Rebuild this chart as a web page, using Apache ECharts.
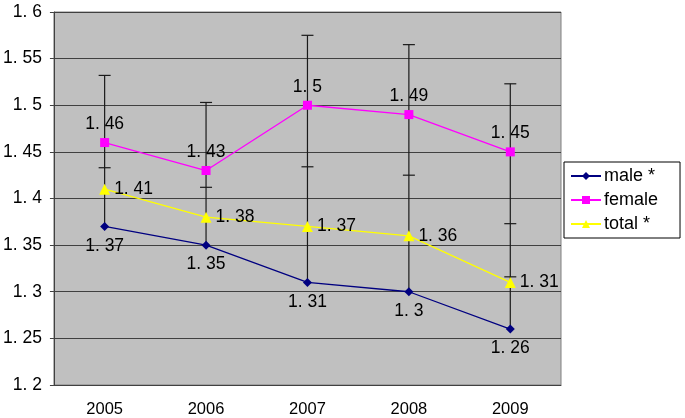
<!DOCTYPE html>
<html><head><meta charset="utf-8">
<script src="https://cdn.jsdelivr.net/npm/echarts@6/dist/echarts.min.js"></script>
<style>html,body{margin:0;padding:0;background:#fff}#c{width:685px;height:418px}</style>
</head><body><div id="c"></div>
<script>
const years = ['2005','2006','2007','2008','2009'];
const male = [1.37,1.35,1.31,1.30,1.26];
const female = [1.46,1.43,1.50,1.49,1.45];
const total = [1.41,1.38,1.37,1.36,1.31];
const femaleUpper = [1.532,1.503,1.575,1.565,1.523];
const maleUpper = [1.433,1.412,1.434,1.425,1.373];
const totalUpper = [null,null,null,null,1.316];

const fmtNum = v => String(v).replace('.', '. ');
const FONT = 'Liberation Sans';

const barData = years.map((y,i)=>[i, male[i], femaleUpper[i]]);
const capData = [];
years.forEach((y,i)=>{ if(maleUpper[i]!=null) capData.push([i,maleUpper[i]]); if(totalUpper[i]!=null) capData.push([i,totalUpper[i]]); });

const chart = echarts.init(document.getElementById('c'));
chart.setOption({
  animation:false,
  textStyle:{fontFamily:FONT},
  grid:{left:52,right:124,top:12,bottom:33,show:true,backgroundColor:'#c0c0c0',borderColor:'#808080',borderWidth:1},
  legend:{
    orient:'vertical',left:564,top:162,
    backgroundColor:'#fff',borderColor:'#000',borderWidth:1,borderRadius:0,
    padding:[5,22,5,6],itemGap:6,itemWidth:30,itemHeight:10,
    textStyle:{fontSize:18,color:'#000',fontFamily:FONT,padding:[0,0,0,-2]},
    data:['male *','female','total *']
  },
  xAxis:{type:'category',data:years,boundaryGap:true,
    axisLine:{lineStyle:{color:'#404040',width:1}},
    axisTick:{inside:true,length:5,lineStyle:{color:'#404040'}},
    axisLabel:{fontSize:16.5,color:'#000',margin:16,fontFamily:FONT}},
  yAxis:{type:'value',min:1.2,max:1.6,interval:0.05,
    axisLine:{show:true,lineStyle:{color:'#404040'}},
    axisTick:{show:true,length:4,lineStyle:{color:'#404040'}},
    splitLine:{lineStyle:{color:'#404040',width:1}},
    axisLabel:{fontSize:17.5,color:'#000',margin:12,fontFamily:FONT,formatter:v=>fmtNum(+v.toFixed(2))}},
  series:[
    {type:'custom',name:'err',silent:true,z:1,data:barData,
     renderItem:(params,api)=>{
       const p0=api.coord([api.value(0),api.value(1)]);
       const p1=api.coord([api.value(0),api.value(2)]);
       return {type:'group',children:[
         {type:'line',shape:{x1:p0[0],y1:p0[1],x2:p1[0],y2:p1[1]},style:{stroke:'#1a1a1a',lineWidth:1.2}},
         {type:'line',shape:{x1:p1[0]-6,y1:p1[1],x2:p1[0]+6,y2:p1[1]},style:{stroke:'#1a1a1a',lineWidth:1.2}}
       ]};
     }},
    {type:'custom',name:'caps',silent:true,z:1,data:capData,
     renderItem:(params,api)=>{
       const p=api.coord([api.value(0),api.value(1)]);
       return {type:'line',shape:{x1:p[0]-6,y1:p[1],x2:p[0]+6,y2:p[1]},style:{stroke:'#1a1a1a',lineWidth:1.2}};
     }},
    {type:'line',name:'male *',data:male,z:3,color:'#000080',symbol:'diamond',symbolSize:9,
     lineStyle:{width:1.3,color:'#000080'},itemStyle:{color:'#000080'},
     label:{show:true,position:'bottom',distance:6,fontSize:17.5,color:'#000',fontFamily:FONT,formatter:p=>fmtNum(p.value)}},
    {type:'line',name:'female',data:female,z:3,color:'#ff00ff',symbol:'rect',symbolSize:9,
     lineStyle:{width:1.3,color:'#ff00ff'},itemStyle:{color:'#ff00ff'},
     label:{show:true,position:'top',distance:5,fontSize:17.5,color:'#000',fontFamily:FONT,formatter:p=>fmtNum(p.value)}},
    {type:'line',name:'total *',data:total,z:3,color:'#ffff00',symbol:'triangle',symbolSize:11,
     lineStyle:{width:1.3,color:'#ffff00'},itemStyle:{color:'#ffff00'},
     label:{show:true,position:'right',distance:4,fontSize:17.5,color:'#000',fontFamily:FONT,formatter:p=>fmtNum(p.value)}}
  ]
});
</script></body></html>
